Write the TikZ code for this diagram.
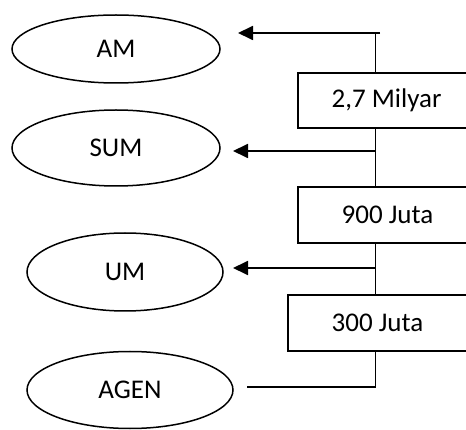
\documentclass[tikz,border=0pt]{standalone}
\usepackage{fontspec}
\setmainfont{Carlito}
\usetikzlibrary{shapes.geometric,arrows.meta}
\begin{document}
\begin{tikzpicture}[x=1pt,y=-1pt,
  lbl/.style={font=\fontsize{27}{32}\selectfont},
  oval/.style={draw,ellipse,line width=1.5pt,inner sep=0pt,lbl},
  box/.style={draw,rectangle,line width=1.7pt,inner sep=0pt,lbl},
  link/.style={line width=1.8pt},
  arr/.style={link,-{Triangle[length=15pt,width=14pt]}}]
\clip (0,0) rectangle (466,430);
% ellipses
\node[oval,minimum width=208pt,minimum height=68pt] (am) at (116,49) {AM};
\node[oval,minimum width=208pt,minimum height=76pt] (sum) at (116,148) {SUM};
\node[oval,minimum width=196pt,minimum height=78pt] (um) at (125,272) {UM};
\node[oval,minimum width=206pt,minimum height=77pt] (agen) at (130,390) {AGEN};
% boxes
\node[box,minimum width=177pt,minimum height=55pt] (b1) at (386.5,100.5) {2,7 Milyar};
\node[box,minimum width=179pt,minimum height=56pt] (b2) at (387.5,215) {900 Juta};
\node[box,minimum width=179pt,minimum height=56pt] (b3) at (377.5,323) {300 Juta};
% junction coordinates
\coordinate (top) at (375.5,33);
\coordinate (topend) at (380,33);
\coordinate (amtip) at (238,33);
\coordinate (j1) at (375.5,151);
\coordinate (sumtip) at (233,151);
\coordinate (j2) at (375.5,268);
\coordinate (umtip) at (233,268);
\coordinate (j3) at (375.5,387);
\coordinate (agenend) at (247,387);
% connectors
\draw[link] (top) -- (top |- b1.north);
\draw[arr] (topend) -- (amtip);
\draw[link] (j1 |- b1.south) -- (j1 |- b2.north);
\draw[arr] (j1) -- (sumtip);
\draw[link] (j2 |- b2.south) -- (j2 |- b3.north);
\draw[arr] (j2) -- (umtip);
\draw[link] (j3 |- b3.south) -- (j3) -- (agenend);
\end{tikzpicture}
\end{document}
